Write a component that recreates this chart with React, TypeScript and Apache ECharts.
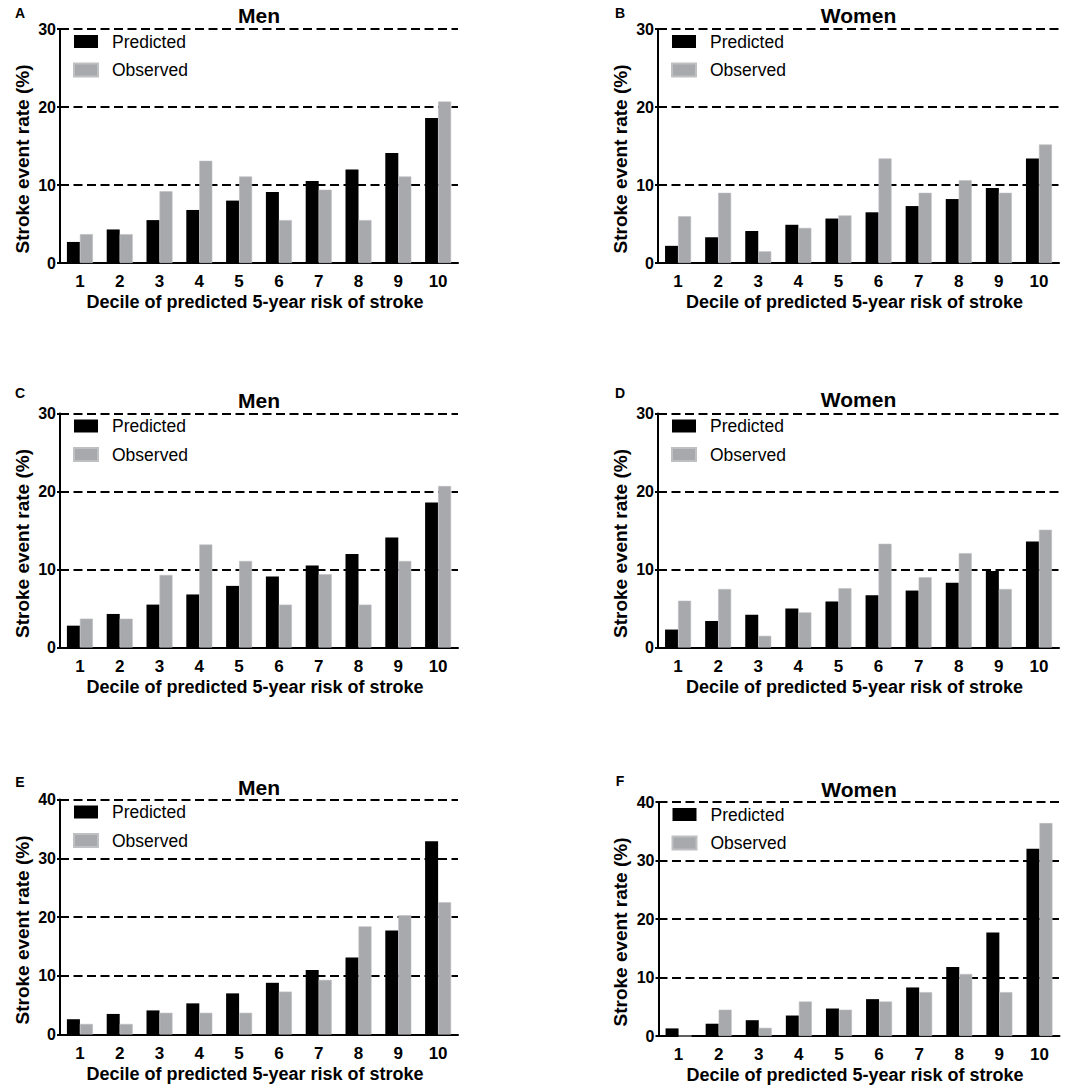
import React, { useEffect, useRef } from "react";
import * as echarts from "echarts";

const deciles = ["1", "2", "3", "4", "5", "6", "7", "8", "9", "10"];
const seriesNames = ["Predicted", "Observed"];
const panelLetters = ["A", "B", "C", "D", "E", "F"];
const panelTitles = ["Men", "Women", "Men", "Women", "Men", "Women"];
const yMaxes = [30, 30, 30, 30, 40, 40];

const predA = [2.7, 4.3, 5.5, 6.8, 8.0, 9.1, 10.5, 12.0, 14.1, 18.6];
const obsA = [3.7, 3.7, 9.2, 13.1, 11.1, 5.5, 9.4, 5.5, 11.1, 20.7];
const predB = [2.2, 3.3, 4.1, 4.9, 5.7, 6.5, 7.3, 8.2, 9.6, 13.4];
const obsB = [6.0, 9.0, 1.5, 4.5, 6.1, 13.4, 9.0, 10.6, 9.0, 15.2];
const predC = [2.8, 4.3, 5.5, 6.8, 7.9, 9.1, 10.5, 12.0, 14.1, 18.6];
const obsC = [3.7, 3.7, 9.3, 13.2, 11.1, 5.5, 9.4, 5.5, 11.1, 20.7];
const predD = [2.3, 3.4, 4.2, 5.0, 5.9, 6.7, 7.3, 8.3, 9.8, 13.6];
const obsD = [6.0, 7.5, 1.5, 4.5, 7.6, 13.3, 9.0, 12.1, 7.5, 15.1];
const predE = [2.6, 3.5, 4.1, 5.3, 7.0, 8.8, 11.0, 13.1, 17.7, 32.9];
const obsE = [1.8, 1.8, 3.7, 3.7, 3.7, 7.3, 9.3, 18.4, 20.3, 22.5];
const predF = [1.3, 2.1, 2.7, 3.5, 4.7, 6.3, 8.3, 11.8, 17.7, 32.0];
const obsF = [0, 4.5, 1.4, 5.9, 4.5, 5.9, 7.5, 10.6, 7.5, 36.4];

const predicted = [predA, predB, predC, predD, predE, predF];
const observed = [obsA, obsB, obsC, obsD, obsE, obsF];

const yTitle = "Stroke event rate (%)";
const xTitle = "Decile of predicted 5-year risk of stroke";

// layout (pixels)
const grids = [
  { left: 60, top: 29, width: 398, height: 234 },
  { left: 658, top: 29, width: 401, height: 234 },
  { left: 60, top: 413.5, width: 398, height: 234 },
  { left: 658, top: 413.5, width: 401, height: 234 },
  { left: 60, top: 799.5, width: 398, height: 235 },
  { left: 658.5, top: 802, width: 401, height: 234 },
];
const letterPos = [
  [20, 13], [620, 13], [20, 393], [620, 393], [20, 782], [620, 781],
];
const titleY = [15.5, 15.5, 400, 399.5, 787, 789];

const FONT = "'Liberation Sans', Arial, Helvetica, sans-serif";
const BLACK = "#000000";
const GRAY = "#a7a9ac";

export default function App() {
  const ref = useRef<HTMLDivElement>(null);

  useEffect(() => {
    document.body.style.margin = "0";
    if (!ref.current) return;
    const chart = echarts.init(ref.current, null, { renderer: "svg" });

    const grid: any[] = [];
    const xAxis: any[] = [];
    const yAxis: any[] = [];
    const series: any[] = [];
    const legend: any[] = [];
    const graphic: any[] = [];

    grids.forEach((g, i) => {
      grid.push({ left: g.left, top: g.top, width: g.width, height: g.height, containLabel: false });
      xAxis.push({
        type: "category",
        gridIndex: i,
        data: deciles,
        boundaryGap: true,
        axisLine: { show: true, lineStyle: { color: BLACK, width: 2 } },
        axisTick: { show: false },
        axisLabel: { color: BLACK, fontFamily: FONT, fontWeight: "bold", fontSize: 17, margin: 10 },
        splitLine: { show: false },
      });
      yAxis.push({
        type: "value",
        gridIndex: i,
        min: 0,
        max: yMaxes[i],
        interval: 10,
        axisLine: { show: true, lineStyle: { color: BLACK, width: 2 } },
        axisTick: { show: true, length: 3, lineStyle: { color: BLACK, width: 2 } },
        axisLabel: { color: BLACK, fontFamily: FONT, fontWeight: "bold", fontSize: 16, margin: 4 },
        splitLine: { show: true, lineStyle: { color: BLACK, width: 2, type: [9, 4.5] } },
      });
      series.push({
        type: "bar",
        name: seriesNames[0],
        xAxisIndex: i,
        yAxisIndex: i,
        data: predicted[i],
        barWidth: 13,
        barGap: "0%",
        itemStyle: { color: BLACK },
      });
      series.push({
        type: "bar",
        name: seriesNames[1],
        xAxisIndex: i,
        yAxisIndex: i,
        data: observed[i],
        barWidth: 13,
        barGap: "0%",
        itemStyle: { color: GRAY, borderColor: "#bfc0c2", borderWidth: 0.6 },
      });
      legend.push({
        data: seriesNames,
        orient: "vertical",
        left: g.left + 13,
        top: g.top + 3.5,
        padding: 0,
        itemWidth: 24,
        itemHeight: 13,
        itemGap: 10.5,
        icon: "rect",
        selectedMode: false,
        textStyle: { color: BLACK, fontFamily: FONT, fontSize: 17.5, lineHeight: 18, padding: [0, 0, 0, 9] },
      });
      const cx = g.left + g.width / 2;
      graphic.push({
        type: "text",
        x: letterPos[i][0],
        y: letterPos[i][1],
        style: { text: panelLetters[i], fill: BLACK, font: `bold 14px ${FONT}`, textAlign: "center", textVerticalAlign: "middle" },
      });
      graphic.push({
        type: "text",
        x: cx,
        y: titleY[i],
        style: { text: panelTitles[i], fill: BLACK, font: `bold 21px ${FONT}`, textAlign: "center", textVerticalAlign: "middle" },
      });
      graphic.push({
        type: "text",
        x: g.left - 38,
        y: g.top + g.height / 2 + 13,
        rotation: Math.PI / 2,
        style: { text: yTitle, fill: BLACK, font: `bold 19px ${FONT}`, textAlign: "center", textVerticalAlign: "middle" },
      });
      graphic.push({
        type: "text",
        x: cx - 4,
        y: g.top + g.height + 39,
        style: { text: xTitle, fill: BLACK, font: `bold 18px ${FONT}`, textAlign: "center", textVerticalAlign: "middle" },
      });
    });

    chart.setOption({
      animation: false,
      backgroundColor: "#ffffff",
      textStyle: { fontFamily: FONT },
      grid,
      xAxis,
      yAxis,
      series,
      legend,
      graphic,
    });

    return () => {
      chart.dispose();
    };
  }, []);

  return <div ref={ref} style={{ width: 1082, height: 1088 }} />;
}
